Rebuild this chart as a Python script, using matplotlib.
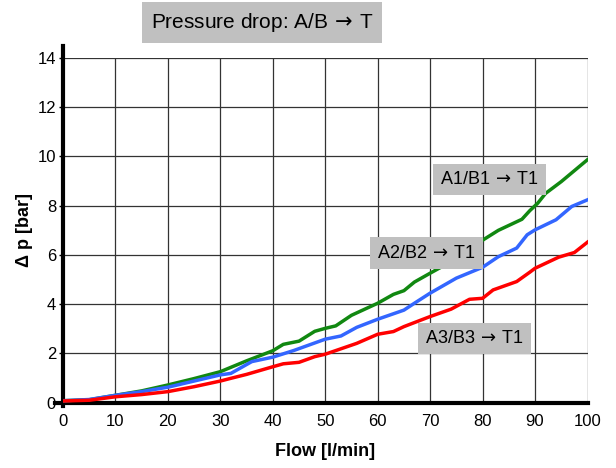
import numpy as np
import matplotlib
matplotlib.use('Agg')
import matplotlib.pyplot as plt

plt.rcParams['font.family'] = ['Liberation Sans', 'DejaVu Sans']
plt.rcParams['mathtext.fontset'] = 'dejavusans'

# A1/B1 -> T1 (green)
flow_a1 = [0, 5, 10, 15, 20, 25, 30, 35, 40, 42, 45, 48, 50, 52, 55, 60, 63, 65, 67, 70, 75, 80, 83, 85, 87.5, 89, 90.5, 92, 95, 100]
dp_a1 = [0.08, 0.12, 0.3, 0.48, 0.72, 0.98, 1.26, 1.7, 2.11, 2.37, 2.5, 2.9, 3.02, 3.12, 3.55, 4.04, 4.4, 4.55, 4.9, 5.26, 5.85, 6.6, 7.0, 7.2, 7.45, 7.8, 8.1, 8.5, 8.98, 9.87]

# A2/B2 -> T1 (blue)
flow_a2 = [0, 5, 10, 15, 20, 25, 30, 32, 36, 40, 44, 50, 53, 56, 60, 65, 67, 70, 75, 80, 83, 86.5, 88.5, 90, 94, 97, 100]
dp_a2 = [0.08, 0.13, 0.3, 0.45, 0.63, 0.88, 1.13, 1.19, 1.67, 1.85, 2.12, 2.58, 2.71, 3.06, 3.39, 3.76, 4.04, 4.45, 5.06, 5.5, 5.93, 6.28, 6.82, 7.02, 7.43, 7.97, 8.24]

# A3/B3 -> T1 (red)
flow_a3 = [0, 5, 10, 15, 20, 25, 30, 32, 35, 40, 42, 45, 48, 50, 56, 60, 63, 65, 70, 74, 77.5, 80, 82, 86.5, 89, 90, 94.5, 97.5, 100]
dp_a3 = [0.07, 0.1, 0.24, 0.33, 0.45, 0.65, 0.88, 0.99, 1.15, 1.46, 1.58, 1.64, 1.87, 1.97, 2.41, 2.78, 2.89, 3.09, 3.5, 3.8, 4.2, 4.24, 4.58, 4.92, 5.3, 5.46, 5.91, 6.1, 6.52]

arrow = '$\\hspace{0.15}\\rightarrow\\hspace{0.15}$'
labels = ['A1/B1' + arrow + 'T1', 'A2/B2' + arrow + 'T1', 'A3/B3' + arrow + 'T1']
label_pos = [(81.3, 9.07), (69.3, 6.08), (78.5, 2.61)]

fig = plt.figure(figsize=(6.16, 4.68), dpi=100)
ax = fig.add_axes([63 / 616, 65.3 / 468, 524.5 / 616, 344.7 / 468])

ax.plot(flow_a1, dp_a1, color='#118811', lw=2.5, solid_joinstyle='round', zorder=3)
ax.plot(flow_a2, dp_a2, color='#3366ff', lw=2.5, solid_joinstyle='round', zorder=3)
ax.plot(flow_a3, dp_a3, color='#ff0000', lw=2.5, solid_joinstyle='round', zorder=3)

for txt, (x, y) in zip(labels, label_pos):
    ax.text(x, y, txt, fontsize=13, ha='center', va='center', zorder=5,
            bbox=dict(boxstyle='square,pad=0.4', fc='#c0c0c0', ec='none'))

ax.set_xlim(0, 100)
ax.set_ylim(0, 14)
ax.set_xticks(np.arange(0, 101, 10))
ax.set_yticks(np.arange(0, 15, 2))
ax.grid(True, color='#333333', lw=0.9)
ax.set_axisbelow(True)

for s in ['top', 'right']:
    ax.spines[s].set_visible(False)
ax.spines['left'].set_linewidth(3)
ax.spines['bottom'].set_linewidth(3)
ax.spines['left'].set_bounds(-0.15, 14.5)
ax.spines['bottom'].set_bounds(-1.5, 100)

ax.tick_params(axis='y', length=3, width=1, labelsize=12, pad=2)
ax.tick_params(axis='x', length=0, labelsize=12, pad=8)

ax.set_xlabel('Flow [l/min]', fontsize=13, fontweight='bold', labelpad=10)
ax.set_ylabel('\u0394 p [bar]', fontsize=13, fontweight='bold', labelpad=3)

fig.text(0.426, 0.952, 'Pressure drop: A/B' + arrow + 'T', fontsize=15, ha='center', va='center',
         bbox=dict(boxstyle='square,pad=0.42', fc='#c0c0c0', ec='none'))

fig.savefig('out.png', dpi=100)
